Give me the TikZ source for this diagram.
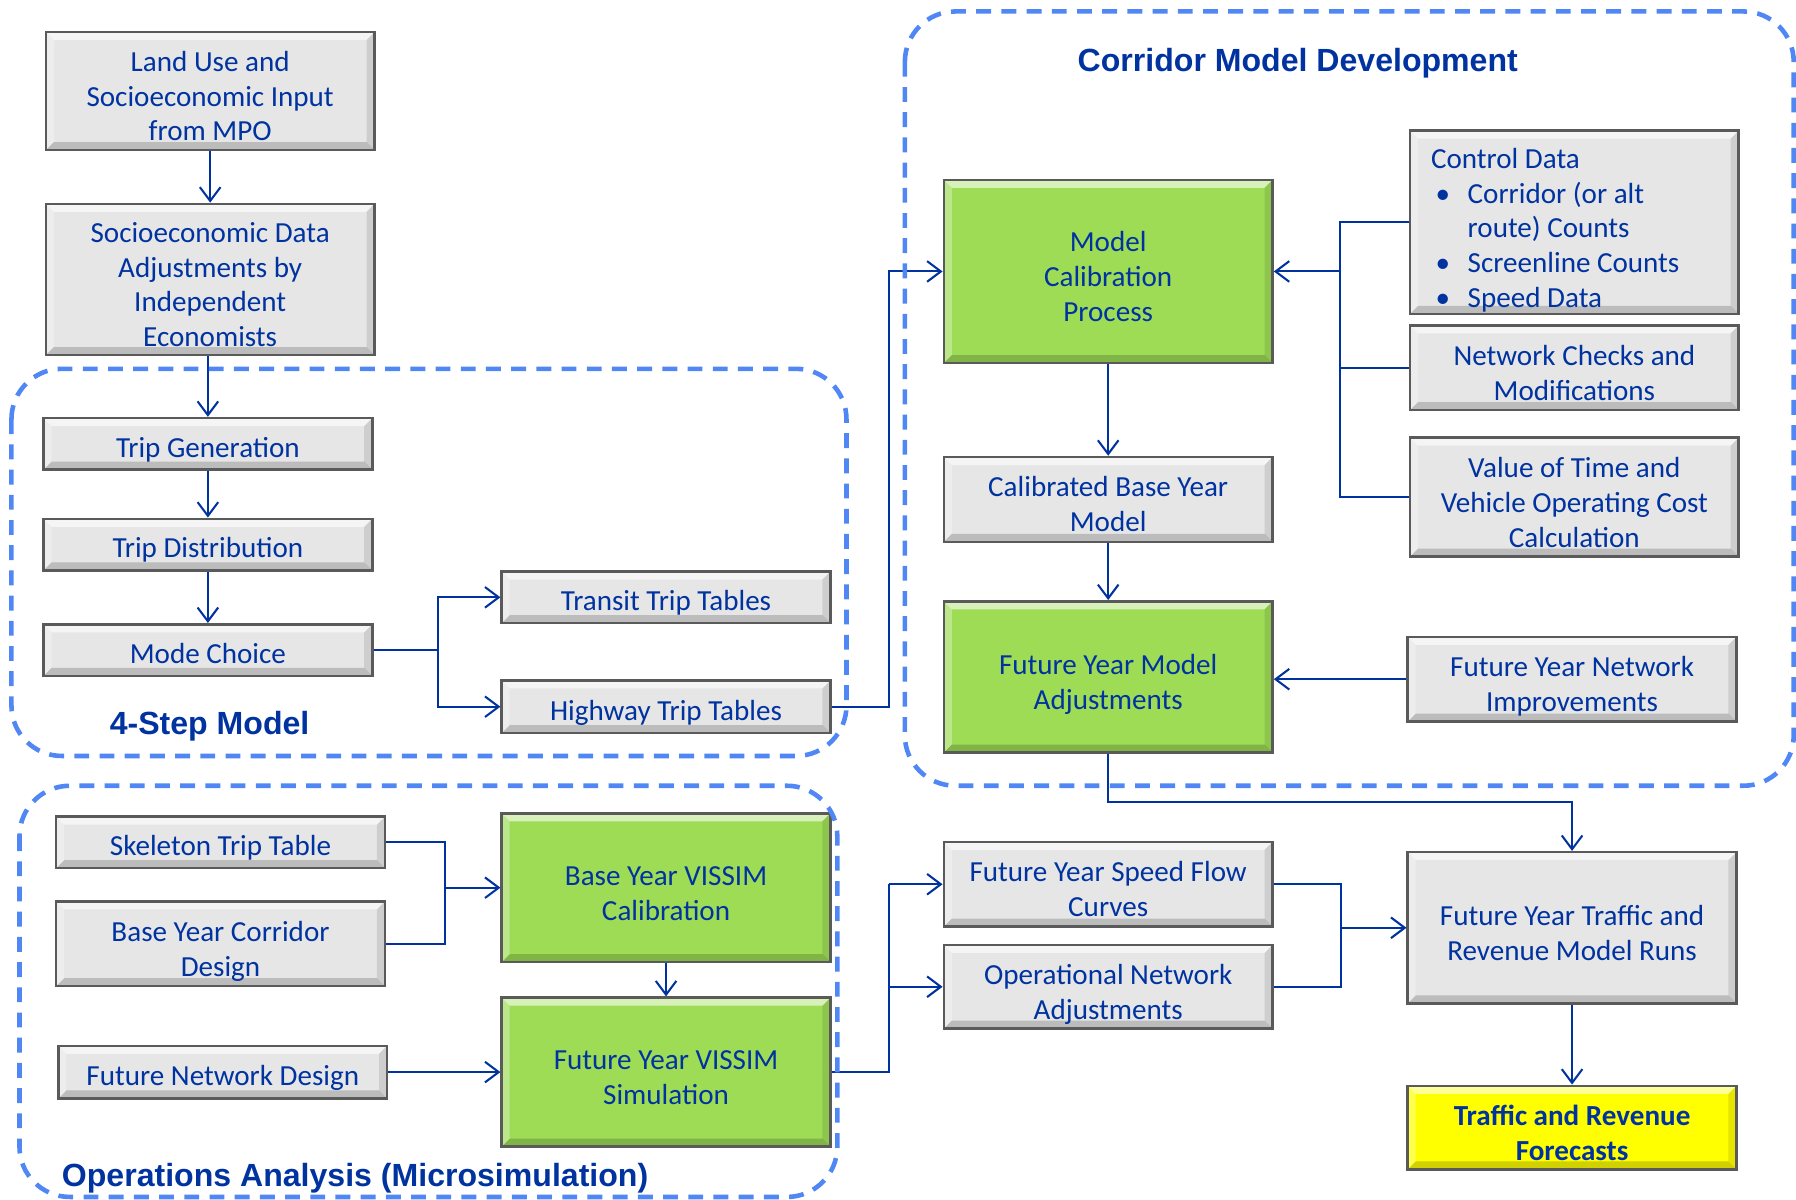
\documentclass[tikz,border=0pt]{standalone}
\usepackage{fontspec}
\setmainfont{Carlito}
\newfontfamily\headfont{Liberation Sans}
\usetikzlibrary{arrows.meta}

\definecolor{ink}{RGB}{0,51,160}
\definecolor{wire}{RGB}{0,51,160}
\definecolor{grpblue}{RGB}{80,135,245}
\definecolor{boxgray}{RGB}{230,230,230}
\definecolor{boxgreen}{RGB}{158,220,86}
\definecolor{boxyellow}{RGB}{255,255,0}
\definecolor{edge}{RGB}{90,90,90}

% invisible strut that fixes the height of the first line of a multi-line label
\newcommand\hstrut{\rule{0pt}{16.5pt}}

\tikzset{
  sz/.style 2 args={minimum width=#1*0.5pt, minimum height=#2*0.5pt},
  bevel/.style={path picture={
    \fill[white,opacity=.6] (path picture bounding box.north west) -- (path picture bounding box.north east)
      -- ([xshift=-3.5pt,yshift=-3.5pt]path picture bounding box.north east)
      -- ([xshift=3.5pt,yshift=-3.5pt]path picture bounding box.north west) -- cycle;
    \fill[black,opacity=.18] (path picture bounding box.south west) -- (path picture bounding box.south east)
      -- ([xshift=-3.5pt,yshift=3.5pt]path picture bounding box.south east)
      -- ([xshift=3.5pt,yshift=3.5pt]path picture bounding box.south west) -- cycle;
    \fill[white,opacity=.3] (path picture bounding box.north west) -- (path picture bounding box.south west)
      -- ([xshift=3.5pt,yshift=3.5pt]path picture bounding box.south west)
      -- ([xshift=3.5pt,yshift=-3.5pt]path picture bounding box.north west) -- cycle;
    \fill[black,opacity=.1] (path picture bounding box.north east) -- (path picture bounding box.south east)
      -- ([xshift=-3.5pt,yshift=3.5pt]path picture bounding box.south east)
      -- ([xshift=-3.5pt,yshift=-3.5pt]path picture bounding box.north east) -- cycle;
  }},
  % fixed line height and depth so every label sits at the same offset
  box/.style={draw=edge, line width=1.1pt, fill=boxgray, bevel, inner xsep=2pt, inner ysep=0pt, align=center,
    text=ink, font=\fontsize{12.7}{15.25}\selectfont,
    execute at begin node={\rule{0pt}{15pt}},
    execute at end node={\rule[-3.4pt]{0pt}{3.4pt}}},
  gbox/.style={box, fill=boxgreen},
  ybox/.style={box, fill=boxyellow, font=\fontsize{12.7}{15.25}\selectfont\bfseries},
  ln/.style={draw=wire, line width=0.9pt},
  arr/.style={ln, -{Straight Barb[length=6pt,width=9pt]}},
  grp/.style={draw=grpblue, line width=2pt, dash pattern=on 6.5pt off 4.5pt, rounded corners=22pt},
  head/.style={text=ink, inner sep=0pt, font=\headfont\bfseries\fontsize{14}{16}\selectfont},
}

\begin{document}
\begin{tikzpicture}[x=0.5pt,y=-0.5pt]
\useasboundingbox (0,0) rectangle (1568,1047);

% ---- input column ----
\node[box, sz={287}{103}] (land) at (183.5,79.5) {\hstrut Land Use and\\Socioeconomic Input\\from MPO};
\node[box, sz={287}{132}] (soc) at (183.5,244) {\hstrut Socioeconomic Data\\Adjustments by\\Independent\\Economists};

% ---- 4-step model ----
\node[box, sz={287}{45}] (tgen) at (181.5,387.5) {Trip Generation};
\node[box, sz={287}{45}] (tdist) at (181.5,475.5) {Trip Distribution};
\node[box, sz={287}{45}] (mode) at (181.5,567.5) {Mode Choice};
\node[box, sz={287}{45}] (transit) at (581.5,521.5) {Transit Trip Tables};
\node[box, sz={287}{46}] (hwy) at (581.5,617) {Highway Trip Tables};

% ---- corridor model development ----
\node[gbox, sz={287}{160}] (mcp) at (967.5,237) {\hstrut Model\\Calibration\\Process};
\node[box, sz={287}{160}] (ctrl) at (1374.5,194) {};
\node[text=ink, inner sep=0pt, anchor=west, align=left, font=\fontsize{12.7}{15.25}\selectfont] (ctrltxt) at (1249,201)
  {Control Data\\
   \hspace*{2pt}\makebox[14pt][l]{\textbullet}Corridor (or alt\\
   \hspace*{16pt}route) Counts\\
   \hspace*{2pt}\makebox[14pt][l]{\textbullet}Screenline Counts\\
   \hspace*{2pt}\makebox[14pt][l]{\textbullet}Speed Data};
\node[box, sz={287}{74}] (net) at (1374.5,321) {\hstrut Network Checks and\\Modifications};
\node[box, sz={287}{104}] (vot) at (1374.5,434) {\hstrut Value of Time and\\Vehicle Operating Cost\\Calculation};
\node[box, sz={287}{74}] (cbym) at (967.5,436) {\hstrut Calibrated Base Year\\Model};
\node[gbox, sz={287}{132}] (fyma) at (967.5,591) {\hstrut Future Year Model\\Adjustments};
\node[box, sz={287}{74}] (fyni) at (1372.5,593) {\hstrut Future Year Network\\Improvements};

% ---- operations analysis ----
\node[box, sz={287}{45}] (skel) at (192.5,735.5) {Skeleton Trip Table};
\node[box, sz={287}{74}] (bycd) at (192.5,824) {\hstrut Base Year Corridor\\Design};
\node[box, sz={287}{46}] (fnd) at (194.5,936) {Future Network Design};
\node[gbox, sz={287}{130}] (byvc) at (581.5,775) {\hstrut Base Year VISSIM\\Calibration};
\node[gbox, sz={287}{130}] (fyvs) at (581.5,936) {\hstrut Future Year VISSIM\\Simulation};

% ---- forecasting ----
\node[box, sz={287}{74}] (fysf) at (967.5,772) {\hstrut Future Year Speed Flow\\Curves};
\node[box, sz={287}{73}] (opn) at (967.5,861.5) {\hstrut Operational Network\\Adjustments};
\node[box, sz={287}{132}] (fytr) at (1372.5,810) {\hstrut Future Year Traffic and\\Revenue Model Runs};
\node[ybox, sz={287}{73}] (trf) at (1372.5,984.5) {\hstrut Traffic and Revenue\\Forecasts};

% ---- connectors ----
\draw[arr] (land) -- (soc);
\draw[arr] (soc.south -| tgen.north) -- (tgen.north);
\draw[arr] (tgen) -- (tdist);
\draw[arr] (tdist) -- (mode);
\draw[ln] (mode.east) -- ++(56,0) coordinate (jm);
\draw[arr] (jm) |- (transit.west);
\draw[arr] (jm) |- (hwy.west);
\draw[arr] (hwy.east) -- ++(50,0) |- (mcp.west);

\draw[ln] (ctrl.west) -- ++(-60,0) coordinate (jb) -- (jb |- vot.west) -- (vot.west);
\draw[ln] (net.west) -- (net.west -| jb);
\draw[arr] (jb |- mcp.east) -- (mcp.east);
\draw[arr] (mcp) -- (cbym);
\draw[arr] (cbym) -- (fyma);
\draw[arr] (fyni.west) -- (fyni.west -| fyma.east);
\draw[arr] (fyma.south) -- ++(0,42) -| (fytr.north);

\draw[ln] (skel.east) -- ++(51,0) coordinate (js) -- (js |- bycd.east) -- (bycd.east);
\draw[arr] (js |- byvc.west) -- (byvc.west);
\draw[arr] (byvc) -- (fyvs);
\draw[arr] (fnd.east) -- (fnd.east -| fyvs.west);
\draw[ln] (fyvs.east) -- ++(50,0) coordinate (jf) -- (jf |- fysf.west);
\draw[arr] (jf |- fysf.west) -- (fysf.west);
\draw[arr] (jf |- opn.west) -- (opn.west);
\draw[ln] (fysf.east) -- ++(59,0) coordinate (jr) -- (jr |- opn.east) -- (opn.east);
\draw[arr] (jr |- fytr.west) -- (fytr.west);
\draw[arr] (fytr) -- (trf);

% ---- group outlines and titles ----
\draw[grp] (10,322) rectangle (739,660);
\draw[grp] (790,10) rectangle (1566,686);
\draw[grp] (17,686) rectangle (731,1045);
\node[head] (t4step) at (183,634) {4-Step Model};
\node[head] (tcorr) at (1133,55) {Corridor Model Development};
\node[head] (tops) at (310,1029) {Operations Analysis (Microsimulation)};
\end{tikzpicture}
\end{document}
